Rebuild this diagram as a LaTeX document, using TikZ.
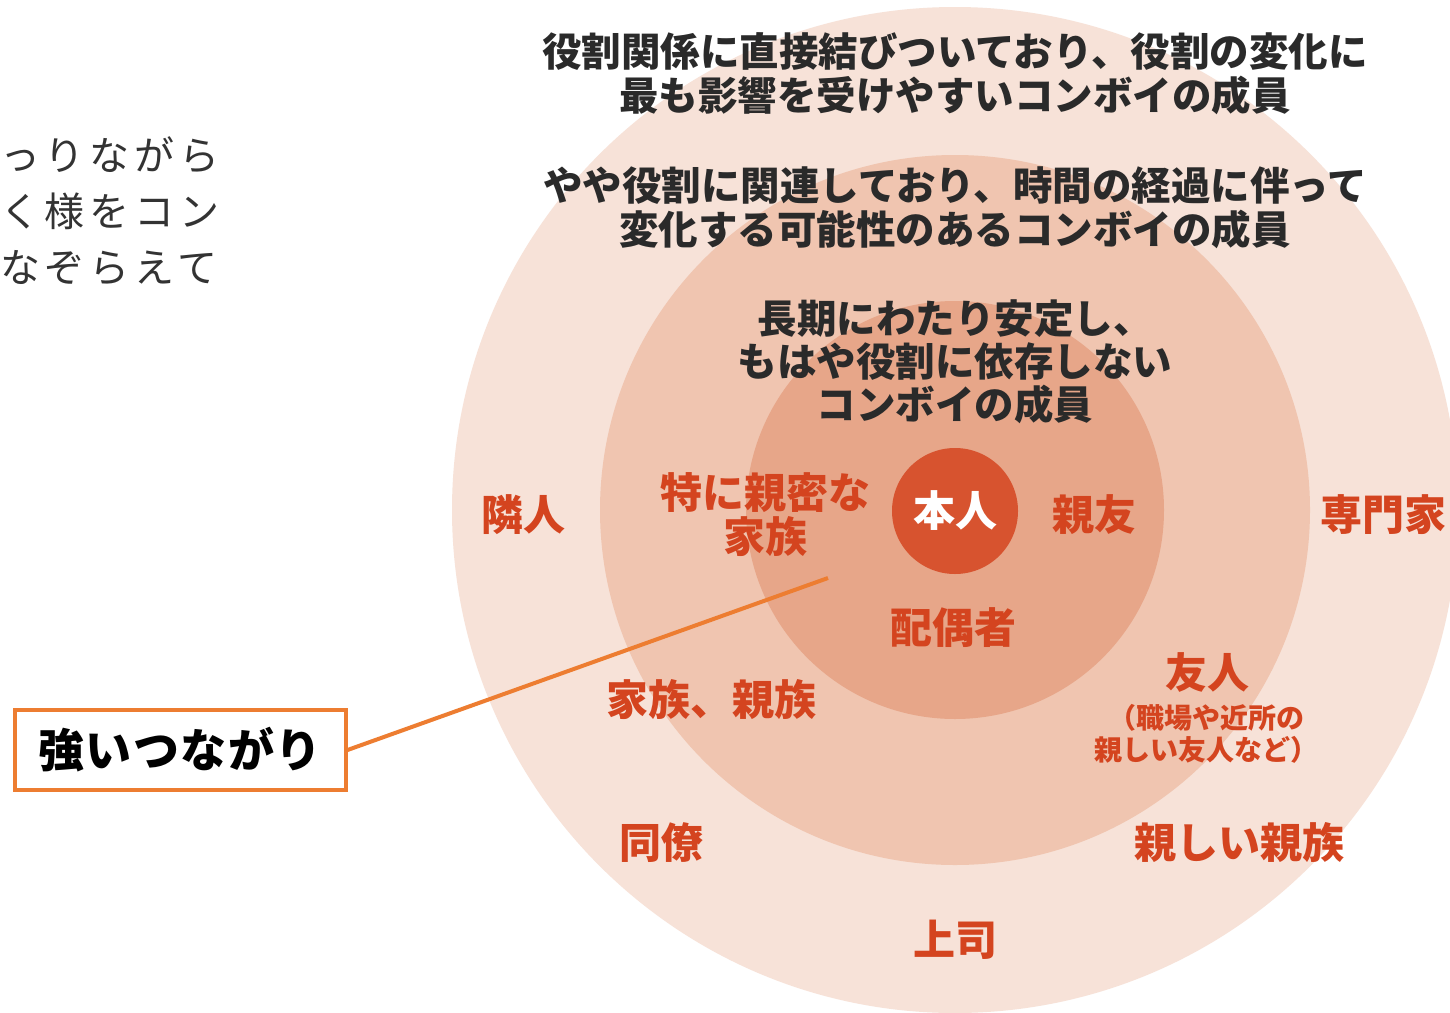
\documentclass[tikz,border=0pt]{standalone}
\usepackage{fontspec}
\newfontfamily\jp{Noto Sans CJK JP}
\definecolor{ringA}{HTML}{F7E2D8}
\definecolor{ringB}{HTML}{F0C5B0}
\definecolor{ringC}{HTML}{E7A689}
\definecolor{coreC}{HTML}{D7532F}
\definecolor{lblred}{HTML}{D4441F}
\definecolor{darktext}{HTML}{2A2A2A}
\definecolor{greytext}{HTML}{333333}
\definecolor{calloutC}{HTML}{ED7D31}
\tikzset{
  darktxt/.style={font=\jp\bfseries\fontsize{39.5}{44}\selectfont, text=darktext, align=center, inner sep=0pt},
  redlbl/.style={font=\jp\bfseries\fontsize{42}{44}\selectfont, text=lblred, align=center, inner sep=0pt},
  smallred/.style={font=\jp\bfseries\fontsize{28}{32}\selectfont, text=lblred, align=center, inner sep=0pt},
  sidetxt/.style={font=\jp\fontsize{40}{44}\selectfont\addfontfeatures{LetterSpace=12}, text=greytext, anchor=west, inner sep=0pt},
  calloutbox/.style={draw=calloutC, line width=4pt, fill=white, minimum width=331pt, minimum height=80pt, inner sep=0pt,
     font=\jp\bfseries\fontsize{46}{50}\selectfont\addfontfeatures{LetterSpace=3}, text=black},
  calloutline/.style={draw=calloutC, line width=4pt}
}
\begin{document}
\begin{tikzpicture}[x=1pt,y=-1pt]
\useasboundingbox (0,0) rectangle (1450,1012);
\clip (0,0) rectangle (1450,1012);
\fill[white] (0,0) rectangle (1450,1012);
% concentric circles
\fill[ringA] (955,510) circle (503pt);
\fill[ringB] (955,510) circle (355pt);
\fill[ringC] (955,510) circle (209pt);
\node[circle, fill=coreC, minimum size=126pt, inner sep=0pt, text=white, font=\jp\bfseries\fontsize{42}{44}\selectfont] (self) at (955,511) {本人};
% descriptive texts
\node[darktxt] (outerdesc) at (955,74) {役割関係に直接結びついており、役割の変化に\\最も影響を受けやすいコンボイの成員};
\node[darktxt] (middesc) at (955,208) {やや役割に関連しており、時間の経過に伴って\\変化する可能性のあるコンボイの成員};
\node[darktxt, font=\jp\bfseries\fontsize{39.5}{43}\selectfont] (innerdesc) at (955,362) {長期にわたり安定し、\\もはや役割に依存しない\\コンボイの成員};
% member labels
\node[redlbl] (neighbor) at (523,515) {隣人};
\node[redlbl] (closefam) at (765,515) {特に親密な\\家族};
\node[redlbl] (bestfriend) at (1094,515) {親友};
\node[redlbl] (expert) at (1383,515) {専門家};
\node[redlbl] (spouse) at (953,628) {配偶者};
\node[redlbl] (friend) at (1207,672) {友人};
\node[smallred] (friendnote) at (1206,734) {（職場や近所の\\親しい友人など）};
\node[redlbl] (family) at (711,700) {家族、親族};
\node[redlbl] (colleague) at (661,843) {同僚};
\node[redlbl] (relative) at (1239,843) {親しい親族};
\node[redlbl] (boss) at (955,940) {上司};
% left partial text
\node[sidetxt] (side1) at (0,155) {っりながら};
\node[sidetxt] (side2) at (0,211) {く様をコン};
\node[sidetxt] (side3) at (0,268) {なぞらえて};
% callout
\node[calloutbox] (callout) at (180,750) {強いつながり};
\coordinate (callouttip) at (828,578);
\draw[calloutline] (callout.east) -- (callouttip);
\end{tikzpicture}
\end{document}
